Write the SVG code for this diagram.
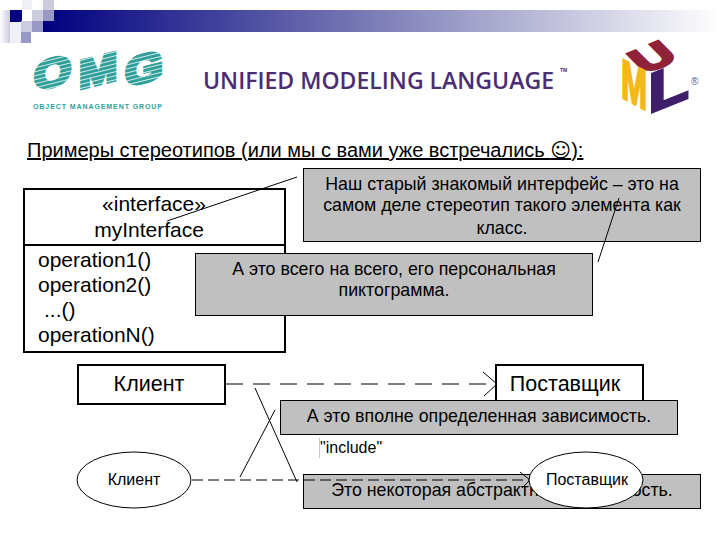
<svg xmlns="http://www.w3.org/2000/svg" width="720" height="540" viewBox="0 0 720 540">
<style>
text{font-family:"Liberation Sans",Arial,sans-serif;fill:#000}
.box{fill:#fff;stroke:#000;stroke-width:2}
.note{fill:#c0c0c0;stroke:#000;stroke-width:1}
.nt{font-size:17.800px;text-anchor:middle}
.cl{font-size:21px}
.ln{fill:none;stroke:#000;stroke-width:1}
.dash{stroke-dasharray:17 10}
.dash2{stroke-dasharray:11 5}
.omg{font-size:40px;font-weight:bold;fill:#2f9f9a;stroke:#2f9f9a;stroke-width:3.500px}
.uml{font-size:56px;font-weight:bold;stroke-width:2.500px}
</style>
<defs>
<linearGradient id="bar" x1="0" x2="1" y1="0" y2="0"><stop offset="0" stop-color="#000080"/><stop offset=".5" stop-color="#7f7fb8"/><stop offset="1" stop-color="#fff"/></linearGradient>
<linearGradient id="sq" x1="0" x2="1" y1="0" y2="0"><stop offset="0" stop-color="#fff"/><stop offset="1" stop-color="#ccccdf"/></linearGradient>
<pattern id="stripes" width="10" height="4" patternUnits="userSpaceOnUse" patternTransform="skewY(-14)"><rect width="10" height=".8" fill="#fff"/></pattern>
</defs>
<rect width="720" height="540" fill="#fff"/>
<g id="header">
<rect x="43" y="10" width="677" height="22" fill="url(#bar)"/>
<rect x="0" y="10" width="10" height="33" fill="url(#sq)"/>
<rect x="10" y="10" width="12" height="12" fill="#000080"/>
<rect x="10" y="22" width="11" height="21" fill="#f0f0f7"/>
<rect x="22" y="0" width="10" height="10" fill="#f0f0f7"/>
<rect x="43" y="0" width="11" height="10" fill="#ccccdf"/>
<rect x="32" y="10" width="11" height="11" fill="#ccccdf"/>
<rect x="43" y="10" width="11" height="11" fill="#9999c6"/>
<rect x="21" y="21" width="11" height="11" fill="#ccccdf"/>
<rect x="32" y="21" width="11" height="11" fill="#9999c6"/>
<rect x="21" y="32" width="10" height="11" fill="#9999c6"/>
</g>
<g id="omg-logo">
<text class="omg" transform="translate(34,91) skewY(-14) scale(1.200,1)">O</text>
<text class="omg" transform="translate(79,89) skewY(-14) scale(1.150,1)">M</text>
<text class="omg" transform="translate(125,87) skewY(-14) scale(1.220,1)">G</text>
<rect x="30" y="46" width="136" height="50" fill="url(#stripes)"/>
<text x="33" y="109" font-size="7" font-weight="bold" textLength="129" style="fill:#2f9f9a">OBJECT MANAGEMENT GROUP</text>
</g>
<g id="uml-title">
<text x="203" y="89" font-size="23" font-weight="600" textLength="351" lengthAdjust="spacingAndGlyphs" style="font-family:'Open Sans',sans-serif;fill:#4b2d73">UNIFIED MODELING LANGUAGE</text>
<text x="560" y="72" font-size="5" font-weight="bold" style="fill:#4b2d73">TM</text>
</g>
<g id="uml-logo">
<text font-size="40" font-weight="bold" transform="matrix(1.240,-.520,.690,.690,644,74)" style="fill:#8f2238;stroke:#8f2238;stroke-width:3px">U</text>
<text class="uml" transform="translate(621,97) skewY(28) scale(.560,1)" style="fill:#f4b81a;stroke:#f4b81a">M</text>
<text class="uml" transform="translate(648,114) skewY(-22) scale(1.200,1)" style="fill:#3f1f6b;stroke:#3f1f6b">L</text>
<text x="691" y="85" font-size="10" style="fill:#4b5f9b">®</text>
</g>
<text id="title" x="27" y="157" font-size="20" text-decoration="underline">Примеры стереотипов (или мы с вами уже встречались <tspan font-family="'DejaVu Sans'">☺</tspan>):</text>
<g id="class-box">
<rect class="box" x="24" y="189" width="261" height="163"/>
<line x1="24" y1="245" x2="285" y2="245" stroke="#000" stroke-width="2"/>
<text class="cl" x="154" y="211" text-anchor="middle">«interface»</text>
<text class="cl" x="149" y="237" text-anchor="middle">myInterface</text>
<text class="cl" x="38" y="267">operation1()</text>
<text class="cl" x="38" y="292">operation2()</text>
<text class="cl" x="44" y="317">...()</text>
<text class="cl" x="38" y="342">operationN()</text>
</g>
<g id="note-interface">
<rect class="note" x="303.500" y="168.500" width="397" height="73"/>
<text class="nt" x="502" y="190">Наш старый знакомый интерфейс – это на</text>
<text class="nt" x="502" y="211">самом деле стереотип такого элемента как</text>
<text class="nt" x="502" y="234">класс.</text>
</g>
<g id="note-icon">
<rect class="note" x="195.500" y="253.500" width="397" height="62"/>
<text class="nt" x="394" y="275">А это всего на всего, его персональная</text>
<text class="nt" x="394" y="296">пиктограмма.</text>
</g>
<g id="client-rect">
<rect class="box" x="78" y="365" width="147" height="39"/>
<text x="149" y="391" font-size="21.500" text-anchor="middle">Клиент</text>
</g>
<g id="supplier-rect">
<rect class="box" x="496" y="365" width="147" height="40"/>
<text x="565" y="391" font-size="21.500" text-anchor="middle">Поставщик</text>
</g>
<g id="note-dependency">
<rect class="note" x="280.500" y="400.500" width="397" height="34"/>
<text class="nt" x="479" y="422">А это вполне определенная зависимость.</text>
</g>
<g id="note-abstract">
<rect class="note" x="303.500" y="474.500" width="397" height="34"/>
<text class="nt" x="502" y="496">Это некоторая абстрактная зависимость.</text>
</g>
<g id="connectors">
<line class="ln" x1="297" y1="177" x2="167" y2="221"/>
<line class="ln" x1="619" y1="198" x2="598" y2="262"/>
<line class="ln dash" x1="226" y1="384" x2="497" y2="384"/>
<polyline class="ln" points="483,372 497,384 484,396"/>
<line class="ln" x1="255" y1="388" x2="297" y2="482"/>
<line class="ln" x1="275" y1="410" x2="240" y2="477"/>
<line class="ln dash2" x1="192" y1="480" x2="530" y2="480"/>
<polyline class="ln" points="520,472 530,480 522,488"/>
</g>
<g id="include-label">
<line x1="319.500" y1="438" x2="319.500" y2="458" stroke="#c8c8c8"/>
<text x="320" y="453" font-size="16">"include"</text>
</g>
<g id="client-ellipse">
<ellipse cx="134" cy="480" rx="57" ry="28" fill="#fff" stroke="#000"/>
<text x="134" y="485" font-size="16" text-anchor="middle">Клиент</text>
</g>
<g id="supplier-ellipse">
<ellipse cx="586" cy="480" rx="57" ry="28" fill="#fff" stroke="#000"/>
<text x="587" y="485" font-size="16" text-anchor="middle">Поставщик</text>
</g>
</svg>
